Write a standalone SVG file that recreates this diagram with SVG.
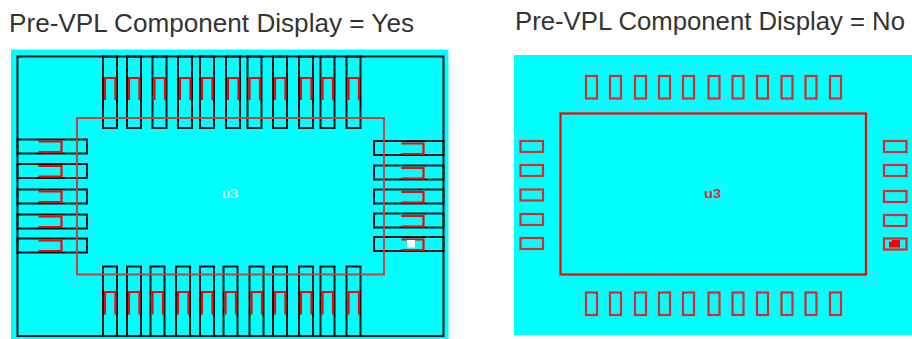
<svg xmlns="http://www.w3.org/2000/svg" width="912" height="339" viewBox="0 0 912 339">
<style>
.t{font-family:"Liberation Sans",Arial,sans-serif;font-size:26px;fill:#333}
.b{fill:none;stroke:#0a1414;stroke-width:2}
.r{fill:none;stroke:#f00;stroke-width:2.200}
.d{fill:none;stroke:#e02828;stroke-width:2.200}
.m{fill:none;stroke:#c84040;stroke-width:2}
.l{font-family:"Liberation Sans",Arial,sans-serif;font-size:12px}
</style>
<defs>
<g id="tp"><rect class="b" x="0" y="0" width="14" height="71.500"/><path class="r" d="M2 43.500V21.500H12.500V43.500"/></g>
<g id="bp"><rect class="b" x="0" y="0" width="14" height="69.500"/><path class="r" d="M2 48V25.500H12.500V48"/></g>
<g id="lp"><rect class="b" x="17.500" y="0" width="69.500" height="14"/><path class="r" d="M38.500 2H61.500V12.500H38.500"/></g>
<g id="rp"><rect class="b" x="374" y="0" width="69.500" height="14"/><path class="r" d="M401.500 2.500H423.500V13H401.500"/></g>
<rect id="v" class="d" width="11" height="22.500"/>
<rect id="h" class="d" width="22.500" height="11"/>
</defs>
<rect width="912" height="339" fill="#fff"/>
<text class="t" x="9" y="32" textLength="405" lengthAdjust="spacingAndGlyphs">Pre-VPL Component Display = Yes</text>
<text class="t" x="515" y="29.500" textLength="390" lengthAdjust="spacingAndGlyphs">Pre-VPL Component Display = No</text>
<g id="panel-yes">
<rect x="11" y="49.500" width="437.500" height="289.500" fill="#0ff"/>
<path class="b" d="M17.500 56.500H443.500V336H17.500Z"/>
<g id="top-pads">
<use href="#tp" x="103" y="56.500"/><use href="#tp" x="127" y="56.500"/><use href="#tp" x="152.500" y="56.500"/><use href="#tp" x="178" y="56.500"/><use href="#tp" x="200" y="56.500"/><use href="#tp" x="226" y="56.500"/><use href="#tp" x="247.500" y="56.500"/><use href="#tp" x="273" y="56.500"/><use href="#tp" x="299" y="56.500"/><use href="#tp" x="320.500" y="56.500"/><use href="#tp" x="346.500" y="56.500"/>
</g>
<g id="bottom-pads">
<use href="#bp" x="103" y="266.500"/><use href="#bp" x="127" y="266.500"/><use href="#bp" x="150.500" y="266.500"/><use href="#bp" x="176" y="266.500"/><use href="#bp" x="200" y="266.500"/><use href="#bp" x="223.500" y="266.500"/><use href="#bp" x="249.500" y="266.500"/><use href="#bp" x="273" y="266.500"/><use href="#bp" x="299" y="266.500"/><use href="#bp" x="320.500" y="266.500"/><use href="#bp" x="346.500" y="266.500"/>
</g>
<g id="left-pads">
<use href="#lp" y="139.500"/><use href="#lp" y="164"/><use href="#lp" y="189.500"/><use href="#lp" y="214.500"/><use href="#lp" y="238.500"/>
</g>
<g id="right-pads">
<use href="#rp" y="141"/><use href="#rp" y="165.500"/><use href="#rp" y="189.500"/><use href="#rp" y="213.500"/><use href="#rp" y="237"/>
</g>
<rect x="407" y="240" width="8" height="7.500" fill="#fff"/>
<rect id="u3-body-yes" class="m" x="77" y="118" width="307" height="156.500"/>
<text class="l" x="222" y="198" fill="#fff" textLength="16" lengthAdjust="spacingAndGlyphs">u3</text>
</g>
<g id="panel-no">
<rect x="514" y="55" width="398" height="280" fill="#0ff"/>
<g id="top-lands">
<use href="#v" x="586" y="76"/><use href="#v" x="610" y="76"/><use href="#v" x="635" y="76"/><use href="#v" x="659" y="76"/><use href="#v" x="683" y="76"/><use href="#v" x="708.500" y="76"/><use href="#v" x="732.500" y="76"/><use href="#v" x="757" y="76"/><use href="#v" x="781.500" y="76"/><use href="#v" x="805.500" y="76"/><use href="#v" x="830" y="76"/>
</g>
<g id="bottom-lands">
<use href="#v" x="586" y="292.500"/><use href="#v" x="610" y="292.500"/><use href="#v" x="635" y="292.500"/><use href="#v" x="659" y="292.500"/><use href="#v" x="683" y="292.500"/><use href="#v" x="708.500" y="292.500"/><use href="#v" x="732.500" y="292.500"/><use href="#v" x="757" y="292.500"/><use href="#v" x="781.500" y="292.500"/><use href="#v" x="805.500" y="292.500"/><use href="#v" x="830" y="292.500"/>
</g>
<g id="left-lands">
<use href="#h" x="520.500" y="141"/><use href="#h" x="520.500" y="165"/><use href="#h" x="520.500" y="189.500"/><use href="#h" x="520.500" y="214"/><use href="#h" x="520.500" y="238"/>
</g>
<g id="right-lands">
<use href="#h" x="884" y="141"/><use href="#h" x="884" y="165"/><use href="#h" x="884" y="191"/><use href="#h" x="884" y="215"/><use href="#h" x="884" y="238.500"/>
</g>
<path d="M889 247.500V241.500H892V240H900V247.500Z" fill="#f00"/>
<rect id="u3-body-no" class="r" x="560.500" y="113.500" width="305.500" height="161"/>
<text class="l" x="704" y="198" fill="#e02828" font-weight="bold" textLength="17" lengthAdjust="spacingAndGlyphs">u3</text>
</g>
</svg>
